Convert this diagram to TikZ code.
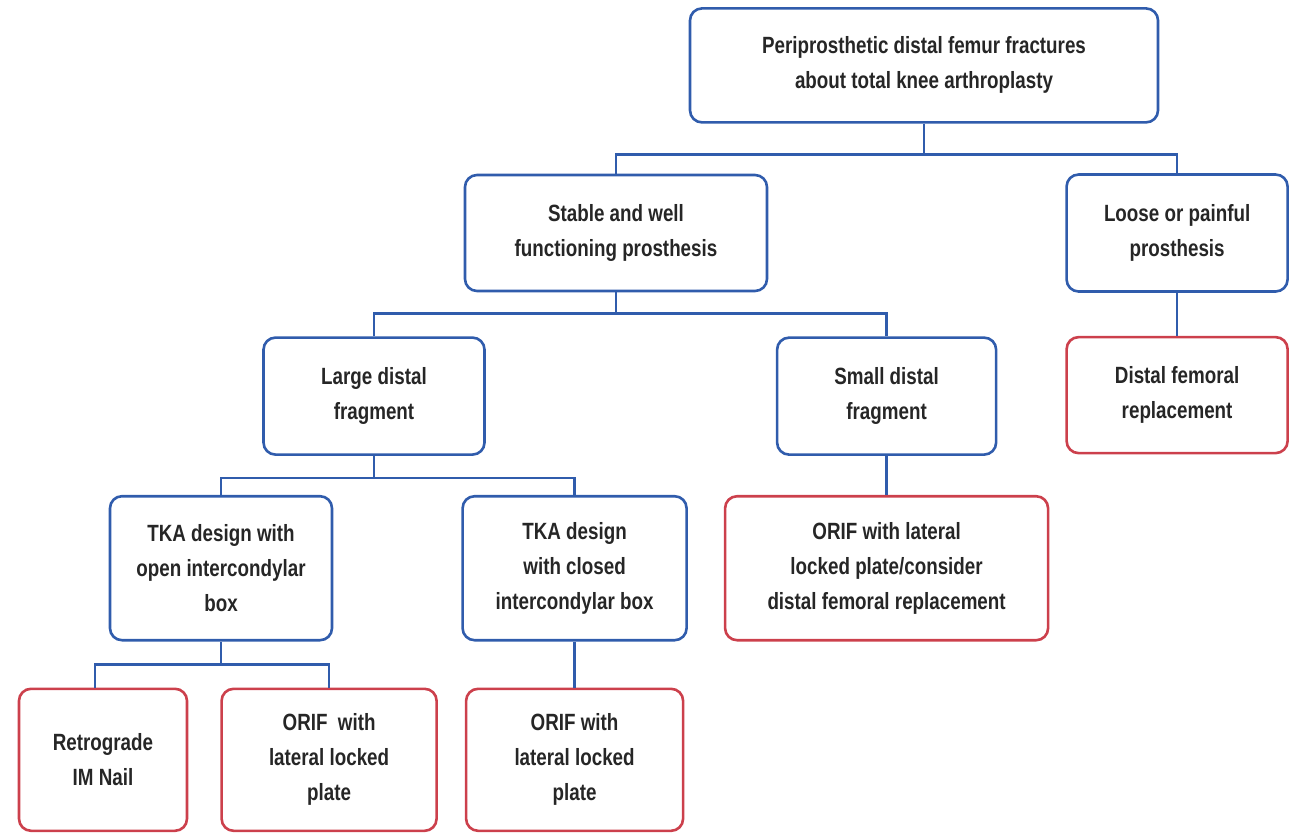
\documentclass[tikz,border=0pt]{standalone}
\usepackage{fontspec}
\setmainfont{Liberation Sans}[FakeStretch=0.8]
\usetikzlibrary{positioning}
\definecolor{boxblue}{RGB}{48,92,172}
\definecolor{boxred}{RGB}{204,64,76}
\definecolor{txtgray}{RGB}{38,38,38}
\tikzstyle{bluebox} = [rectangle,
rounded corners=12pt,
line width=2.6pt,
align=center,
text=txtgray,
font=\bfseries\fontsize{23.5}{35}\selectfont,
draw=boxblue]
\tikzstyle{redbox} = [bluebox,
draw=boxred]
\tikzstyle{conn} = [line width=2.6pt, draw=boxblue]

\begin{document}
\begin{tikzpicture}[x=1pt,y=-1pt]
\useasboundingbox (0,0) rectangle (1297,835);

\node (stable) [bluebox, minimum width=302pt, minimum height=116pt] at (616,233) {
  Stable and well\\functioning prosthesis
};

\node (loose) [bluebox, minimum width=221pt, minimum height=117pt, right=297pt of stable] {
  Loose or painful\\prosthesis
};

\node (top) [bluebox, minimum width=468pt, minimum height=114pt, above=50pt of stable, xshift=308pt] {
  Periprosthetic distal femur fractures\\about total knee arthroplasty
};

\node (large) [bluebox, minimum width=221pt, minimum height=117pt, below=44pt of stable, xshift=-242pt] {
  Large distal\\fragment
};

\node (small) [bluebox, minimum width=219pt, minimum height=117pt, right=290pt of large] {
  Small distal\\fragment
};

\node (distal) [redbox, minimum width=221pt, minimum height=116pt, below=43pt of loose] {
  Distal femoral\\replacement
};

\node (tkaopen) [bluebox, minimum width=222pt, minimum height=144pt, below=39pt of large, xshift=-153pt] {
  TKA design with\\open intercondylar\\box
};

\node (tkaclosed) [bluebox, minimum width=224pt, minimum height=144pt, right=128pt of tkaopen] {
  TKA design\\with closed\\intercondylar box
};

\node (orifsmall) [redbox, minimum width=323pt, minimum height=144pt, below=39pt of small] {
  ORIF with lateral\\locked plate/consider\\distal femoral replacement
};

\node (retro) [redbox, minimum width=168pt, minimum height=142pt, below=46pt of tkaopen, xshift=-118pt] {
  Retrograde\\IM Nail
};

\node (orifopen) [redbox, minimum width=215pt, minimum height=142pt, right=32pt of retro] {
  ORIF~ with\\lateral locked\\plate
};

\node (orifclosed) [redbox, minimum width=217pt, minimum height=142pt, below=46pt of tkaclosed] {
  ORIF with\\lateral locked\\plate
};

% tree connectors
\draw [conn] (top.south) -- ++(0,31) coordinate (bus1);
\draw [conn] (stable.north) |- (bus1) -| (loose.north);
\draw [conn] (stable.south) -- ++(0,21) coordinate (bus2);
\draw [conn] (large.north) |- (bus2) -| (small.north);
\draw [conn] (large.south) -- ++(0,22) coordinate (bus3);
\draw [conn] (tkaopen.north) |- (bus3) -| (tkaclosed.north);
\draw [conn] (tkaopen.south) -- ++(0,23) coordinate (bus4);
\draw [conn] ([xshift=-8pt]retro.north) |- (bus4) -| (orifopen.north);
\draw [conn] (loose) -- (distal);
\draw [conn] (small) -- (orifsmall);
\draw [conn] (tkaclosed) -- (orifclosed);

\end{tikzpicture}
\end{document}
